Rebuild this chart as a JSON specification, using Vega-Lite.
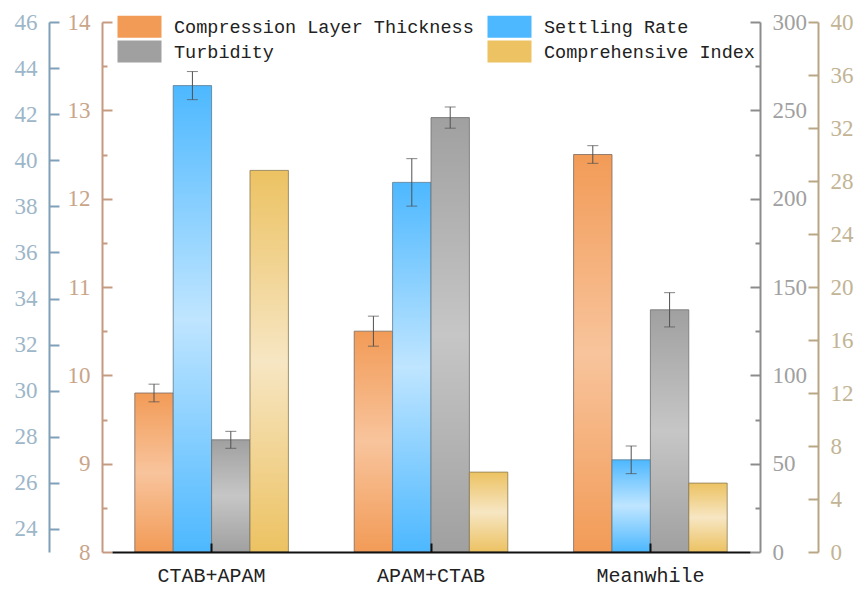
{
  "$schema": "https://vega.github.io/schema/vega-lite/v6.json",
  "autosize": "none",
  "width": 638,
  "height": 530,
  "padding": {"left": 112, "top": 22, "right": 108, "bottom": 38},
  "background": "white",
  "config": {"view": {"stroke": null}},
  "data": {"values": [
    {"group": "CTAB+APAM", "series": "Compression Layer Thickness", "value": 9.80, "lo": 9.70, "hi": 9.90},
    {"group": "APAM+CTAB", "series": "Compression Layer Thickness", "value": 10.50, "lo": 10.33, "hi": 10.67},
    {"group": "Meanwhile", "series": "Compression Layer Thickness", "value": 12.50, "lo": 12.40, "hi": 12.60},
    {"group": "CTAB+APAM", "series": "Settling Rate", "value": 43.24, "lo": 42.63, "hi": 43.85},
    {"group": "APAM+CTAB", "series": "Settling Rate", "value": 39.04, "lo": 38.01, "hi": 40.07},
    {"group": "Meanwhile", "series": "Settling Rate", "value": 27.0, "lo": 26.4, "hi": 27.6},
    {"group": "CTAB+APAM", "series": "Turbidity", "value": 63.5, "lo": 58.7, "hi": 68.3},
    {"group": "APAM+CTAB", "series": "Turbidity", "value": 245.9, "lo": 239.9, "hi": 251.9},
    {"group": "Meanwhile", "series": "Turbidity", "value": 137.1, "lo": 127.4, "hi": 146.8},
    {"group": "CTAB+APAM", "series": "Comprehensive Index", "value": 28.8},
    {"group": "APAM+CTAB", "series": "Comprehensive Index", "value": 6.03},
    {"group": "Meanwhile", "series": "Comprehensive Index", "value": 5.2}
  ]},
  "encoding": {
    "x": {"field": "group", "type": "nominal", "sort": null,
      "scale": {"domain": ["CTAB+APAM", "APAM+CTAB", "Meanwhile"], "paddingInner": 0.3, "paddingOuter": 0.104},
      "axis": {"title": null, "domainColor": "#111", "domainWidth": 2, "tickColor": "#111", "tickWidth": 2, "tickSize": -9, "labelPadding": 22, "labelFont": "Liberation Mono", "labelFontSize": 20, "labelColor": "#222", "labelAngle": 0, "zindex": 1}},
    "xOffset": {"field": "series", "type": "nominal", "scale": {"domain": ["Compression Layer Thickness", "Settling Rate", "Turbidity", "Comprehensive Index"], "paddingInner": 0, "paddingOuter": 0}}
  },
  "layer": [
    {
      "transform": [{"filter": "datum.series === 'Compression Layer Thickness'"}],
      "layer": [
        {"mark": {"type": "bar", "stroke": "#7a6a60", "strokeWidth": 1, "strokeOpacity": 0.8,
           "fill": {"gradient": "linear", "x1": 0, "y1": 0, "x2": 0, "y2": 1, "stops": [{"offset": 0, "color": "#F29B57"}, {"offset": 0.5, "color": "#F8C49C"}, {"offset": 1, "color": "#F29B57"}]}},
         "encoding": {
           "y": {"field": "value", "type": "quantitative", "scale": {"domain": [8, 14], "zero": false, "nice": false},
             "axis": {"title": null, "orient": "left", "offset": 10, "grid": false,
               "values": [8, 8.5, 9, 9.5, 10, 10.5, 11, 11.5, 12, 12.5, 13, 13.5, 14],
               "labelExpr": "datum.value % 1 === 0 ? format(datum.value, 'd') : ''",
               "tickSize": {"condition": {"test": "datum.value % 1 === 0", "value": -10}, "value": -5},
               "labelPadding": 22, "labelOverlap": false,
               "domainColor": "#C49A80", "tickColor": "#C49A80", "domainWidth": 2, "tickWidth": 2,
               "labelColor": "#C9A58A", "labelFont": "Liberation Serif", "labelFontSize": 23}},
           "y2": {"datum": 8}
         }},
        {"mark": {"type": "rule", "color": "#505050", "strokeWidth": 1},
         "encoding": {"y": {"field": "lo", "type": "quantitative"}, "y2": {"field": "hi"}}},
        {"mark": {"type": "tick", "color": "#505050", "thickness": 1, "size": 11},
         "encoding": {"y": {"field": "lo", "type": "quantitative"}}},
        {"mark": {"type": "tick", "color": "#505050", "thickness": 1, "size": 11},
         "encoding": {"y": {"field": "hi", "type": "quantitative"}}}
      ]
    },
    {
      "transform": [{"filter": "datum.series === 'Settling Rate'"}],
      "layer": [
        {"mark": {"type": "bar", "stroke": "#5a7a90", "strokeWidth": 1, "strokeOpacity": 0.8,
           "fill": {"gradient": "linear", "x1": 0, "y1": 0, "x2": 0, "y2": 1, "stops": [{"offset": 0, "color": "#4DB8FF"}, {"offset": 0.5, "color": "#BFE5FF"}, {"offset": 1, "color": "#4DB8FF"}]}},
         "encoding": {
           "y": {"field": "value", "type": "quantitative", "scale": {"domain": [23, 46], "zero": false, "nice": false},
             "axis": {"title": null, "orient": "left", "offset": 63, "grid": false,
               "values": [24, 25, 26, 27, 28, 29, 30, 31, 32, 33, 34, 35, 36, 37, 38, 39, 40, 41, 42, 43, 44, 45, 46],
               "labelExpr": "datum.value % 2 === 0 ? format(datum.value, 'd') : ''",
               "tickSize": {"condition": {"test": "datum.value % 2 === 0", "value": -10}, "value": -5},
               "labelPadding": 22, "labelOverlap": false,
               "domainColor": "#7FA0B8", "tickColor": "#7FA0B8", "domainWidth": 2, "tickWidth": 2,
               "labelColor": "#9DB6C8", "labelFont": "Liberation Serif", "labelFontSize": 23}},
           "y2": {"datum": 23}
         }},
        {"mark": {"type": "rule", "color": "#505050", "strokeWidth": 1},
         "encoding": {"y": {"field": "lo", "type": "quantitative"}, "y2": {"field": "hi"}}},
        {"mark": {"type": "tick", "color": "#505050", "thickness": 1, "size": 11},
         "encoding": {"y": {"field": "lo", "type": "quantitative"}}},
        {"mark": {"type": "tick", "color": "#505050", "thickness": 1, "size": 11},
         "encoding": {"y": {"field": "hi", "type": "quantitative"}}}
      ]
    },
    {
      "transform": [{"filter": "datum.series === 'Turbidity'"}],
      "layer": [
        {"mark": {"type": "bar", "stroke": "#707070", "strokeWidth": 1, "strokeOpacity": 0.8,
           "fill": {"gradient": "linear", "x1": 0, "y1": 0, "x2": 0, "y2": 1, "stops": [{"offset": 0, "color": "#A0A0A0"}, {"offset": 0.5, "color": "#C6C6C6"}, {"offset": 1, "color": "#A0A0A0"}]}},
         "encoding": {
           "y": {"field": "value", "type": "quantitative", "scale": {"domain": [0, 300], "nice": false},
             "axis": {"title": null, "orient": "right", "offset": 10, "grid": false,
               "values": [0, 25, 50, 75, 100, 125, 150, 175, 200, 225, 250, 275, 300],
               "labelExpr": "datum.value % 50 === 0 ? format(datum.value, 'd') : ''",
               "tickSize": {"condition": {"test": "datum.value % 50 === 0", "value": -10}, "value": -5},
               "labelPadding": 22, "labelOverlap": false,
               "domainColor": "#8C8C8C", "tickColor": "#8C8C8C", "domainWidth": 2, "tickWidth": 2,
               "labelColor": "#A0A0A0", "labelFont": "Liberation Serif", "labelFontSize": 23}}
         }},
        {"mark": {"type": "rule", "color": "#505050", "strokeWidth": 1},
         "encoding": {"y": {"field": "lo", "type": "quantitative"}, "y2": {"field": "hi"}}},
        {"mark": {"type": "tick", "color": "#505050", "thickness": 1, "size": 11},
         "encoding": {"y": {"field": "lo", "type": "quantitative"}}},
        {"mark": {"type": "tick", "color": "#505050", "thickness": 1, "size": 11},
         "encoding": {"y": {"field": "hi", "type": "quantitative"}}}
      ]
    },
    {
      "transform": [{"filter": "datum.series === 'Comprehensive Index'"}],
      "layer": [
        {"mark": {"type": "bar", "stroke": "#8a7a50", "strokeWidth": 1, "strokeOpacity": 0.8,
           "fill": {"gradient": "linear", "x1": 0, "y1": 0, "x2": 0, "y2": 1, "stops": [{"offset": 0, "color": "#ECC262"}, {"offset": 0.5, "color": "#F7E6C3"}, {"offset": 1, "color": "#ECC262"}]}},
         "encoding": {
           "y": {"field": "value", "type": "quantitative", "scale": {"domain": [0, 40], "nice": false},
             "axis": {"title": null, "orient": "right", "offset": 68, "grid": false,
               "values": [0, 2, 4, 6, 8, 10, 12, 14, 16, 18, 20, 22, 24, 26, 28, 30, 32, 34, 36, 38, 40],
               "labelExpr": "datum.value % 4 === 0 ? format(datum.value, 'd') : ''",
               "tickSize": {"condition": {"test": "datum.value % 4 === 0", "value": -10}, "value": -5},
               "labelPadding": 22, "labelOverlap": false,
               "domainColor": "#B8A684", "tickColor": "#B8A684", "domainWidth": 2, "tickWidth": 2,
               "labelColor": "#C2B494", "labelFont": "Liberation Serif", "labelFontSize": 23}}
         }},
        {"mark": {"type": "bar", "opacity": 0},
         "encoding": {
           "y": {"field": "value", "type": "quantitative"},
           "color": {"field": "series", "type": "nominal",
             "scale": {"domain": ["Compression Layer Thickness", "Settling Rate", "Turbidity", "Comprehensive Index"],
               "range": ["#F29B57", "#4DB8FF", "#A0A0A0", "#ECC262"]},
             "legend": {"title": null, "orient": "none", "direction": "horizontal", "legendX": 16, "legendY": -7, "columns": 2,
               "symbolType": "M-2,-1H2V1H-2Z", "symbolSize": 484, "symbolStrokeColor": "#888", "symbolStrokeWidth": 1, "symbolOpacity": 1,
               "labelFont": "Liberation Mono", "labelFontSize": 18.5, "labelColor": "#222", "labelOffset": 23, "labelLimit": 0,
               "columnPadding": 11, "rowPadding": -2,
               "encode": {"symbols": {"update": {
                 "opacity": {"value": 1},
                 "fill": {"signal": "datum.value === 'Compression Layer Thickness' ? {gradient: 'linear', x1: 0, y1: 0, x2: 0, y2: 1, stops: [{offset: 0, color: '#F29B57'}, {offset: 0.5, color: '#F8C49C'}, {offset: 1, color: '#F29B57'}]} : datum.value === 'Settling Rate' ? {gradient: 'linear', x1: 0, y1: 0, x2: 0, y2: 1, stops: [{offset: 0, color: '#4DB8FF'}, {offset: 0.5, color: '#BFE5FF'}, {offset: 1, color: '#4DB8FF'}]} : datum.value === 'Turbidity' ? {gradient: 'linear', x1: 0, y1: 0, x2: 0, y2: 1, stops: [{offset: 0, color: '#A0A0A0'}, {offset: 0.5, color: '#C6C6C6'}, {offset: 1, color: '#A0A0A0'}]} : {gradient: 'linear', x1: 0, y1: 0, x2: 0, y2: 1, stops: [{offset: 0, color: '#ECC262'}, {offset: 0.5, color: '#F7E6C3'}, {offset: 1, color: '#ECC262'}]}"}
               }}}}}
         }}
      ]
    }
  ],
  "resolve": {"scale": {"y": "independent"}, "axis": {"y": "independent"}}
}
